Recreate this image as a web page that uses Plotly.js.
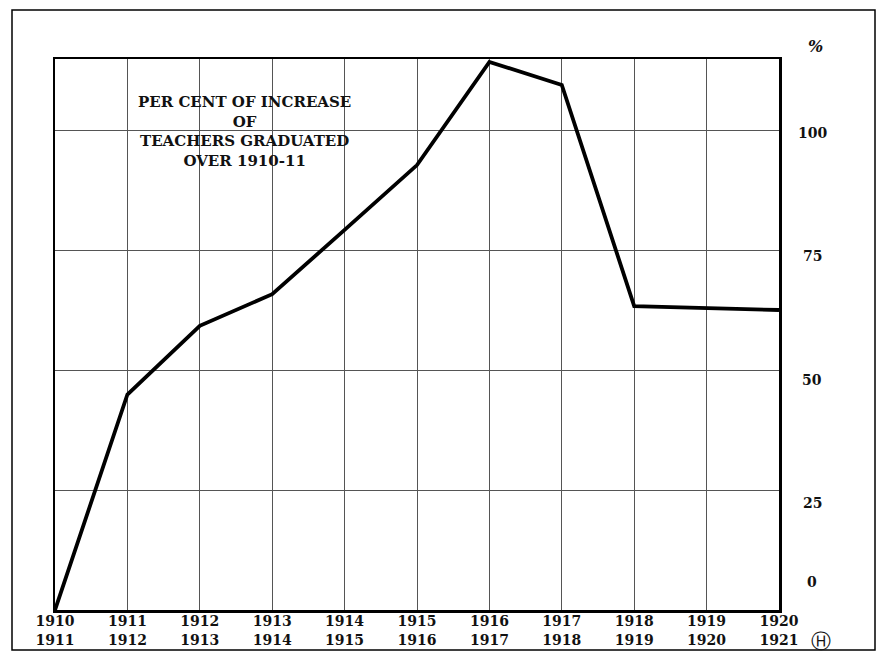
<!DOCTYPE html>
<html>
<head>
<meta charset="utf-8">
<script src="https://cdn.plot.ly/plotly-3.0.1.min.js"></script>
<style>html,body{margin:0;padding:0;background:#fff;}#chart{width:877px;height:658px;}</style>
</head>
<body>
<div id="chart"></div>
<script>
// Data
const years = [1910, 1911, 1912, 1913, 1914, 1915, 1916, 1917, 1918, 1919, 1920];
const yearLabels = ["1910<br>1911", "1911<br>1912", "1912<br>1913", "1913<br>1914", "1914<br>1915",
  "1915<br>1916", "1916<br>1917", "1917<br>1918", "1918<br>1919", "1919<br>1920", "1920<br>1921"];
const percentIncrease = [0, 44.9, 59.2, 65.8, 79.2, 92.7, 114.2, 109.4, 63.3, 62.9, 62.5];
const yTickValues = [0, 25, 50, 75, 100];
const yTickLabels = ["0", "25", "50", "75", "100"];
const chartTitle = "PER CENT OF INCREASE<br>OF<br>TEACHERS GRADUATED<br>OVER 1910-11";

const serif = "DejaVu Serif, serif";

const annotations = yTickValues.map((v, i) => ({
  x: 1, xref: 'paper', xanchor: 'center', xshift: 33,
  y: v, yref: 'y', yanchor: 'middle',
  yshift: v === 0 ? 28 : -(3 + (100 - v) / 25 * 3.3),
  text: yTickLabels[i], showarrow: false,
  font: {family: serif, size: 14, color: '#111', weight: 'bold'}
}));
annotations.push({
  x: 0.262, xref: 'paper', y: 0.869, yref: 'paper', xanchor: 'center', yanchor: 'middle',
  text: chartTitle, showarrow: false, align: 'center',
  font: {family: serif, size: 15, color: '#111', weight: 'bold'}
});
annotations.push({
  x: 1, xref: 'paper', xshift: 36, xanchor: 'center',
  y: 1, yref: 'paper', yshift: 1, yanchor: 'bottom',
  text: "%", showarrow: false,
  font: {family: serif, size: 16, color: '#111', weight: 'bold', style: 'italic'}
});
annotations.push({
  x: 1, xref: 'paper', xshift: 42, xanchor: 'center',
  y: 0, yref: 'paper', yshift: -31, yanchor: 'middle',
  text: "Ⓗ", showarrow: false,
  font: {family: "DejaVu Sans, sans-serif", size: 20, color: '#111'}
});

const trace = {
  x: years, y: percentIncrease, type: 'scatter', mode: 'lines',
  line: {color: '#000', width: 3.8}, hoverinfo: 'skip'
};

const layout = {
  width: 877, height: 658,
  margin: {l: 55, r: 98, t: 59, b: 48},
  paper_bgcolor: '#fff', plot_bgcolor: '#fff',
  showlegend: false,
  xaxis: {
    range: [1910, 1920], tickvals: years, ticktext: yearLabels,
    showgrid: true, gridcolor: '#555', gridwidth: 1,
    showline: true, linecolor: '#000', linewidth: 2.5, mirror: true,
    zeroline: false, ticks: '', ticklabelstandoff: -3,
    tickfont: {family: serif, size: 14, color: '#111', weight: 'bold'}
  },
  yaxis: {
    range: [0, 114.8], tickvals: yTickValues, showticklabels: false,
    showgrid: true, gridcolor: '#555', gridwidth: 1,
    showline: true, linecolor: '#000', linewidth: 2.5, mirror: true,
    zeroline: false, ticks: ''
  },
  annotations: annotations,
  shapes: [{
    type: 'rect', xref: 'paper', yref: 'paper',
    x0: -43 / 724, x1: 1 + 96 / 724, y0: -40 / 551, y1: 1 + 49 / 551,
    line: {color: '#000', width: 1.5}
  }]
};

Plotly.newPlot('chart', [trace], layout, {displayModeBar: false, staticPlot: true});
</script>
</body>
</html>
